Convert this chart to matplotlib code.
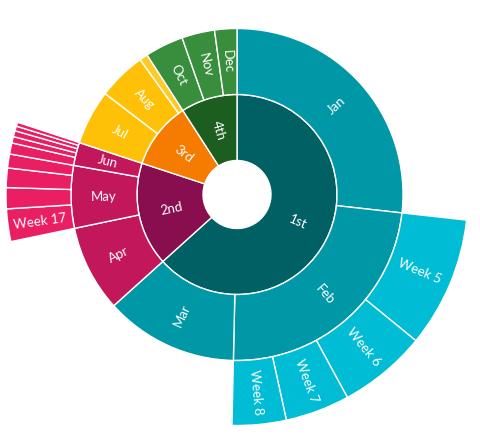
import math
import matplotlib
matplotlib.use("Agg")
import matplotlib.pyplot as plt

# data (values read as share of the circle)
quarters = ["1st", "2nd", "3rd", "4th"]
months = ["Jan", "Feb", "Mar", "Apr", "May", "Jun",
          "Jul", "Aug", "Sep", "Oct", "Nov", "Dec"]
month_values = [96.4, 84.9, 46.7, 30.3, 21.9, 8.1,
                19.2, 16.9, 2.9, 13.5, 11.5, 7.8]
week_names = ["Week 5", "Week 6", "Week 7", "Week 8",
               "Week 17", "Week 18", "Week 19", "Week 20",
               "Week 22", "Week 23", "Week 24", "Week 25", "Week 26"]
week_months = ["Feb", "Feb", "Feb", "Feb",
               "May", "May", "May", "May",
               "Jun", "Jun", "Jun", "Jun", "Jun"]
week_values = [32.9, 22.2, 16.2, 13.6,
               8.2, 5.3, 4.9, 3.5,
               2.8, 1.6, 1.5, 1.2, 1.0]

quarter_colors = ["#006064", "#880e4f", "#f57c00", "#1b5e20"]
month_colors = ["#0097a7", "#c2185b", "#ffc107", "#388e3c"]
week_colors = ["#00bcd4", "#e91e63"]

# derived rings
quarter_values = [sum(month_values[i * 3:i * 3 + 3]) for i in range(4)]
m_cols = [month_colors[i // 3] for i in range(12)]
m_cols[8] = "#ffca28"

ring3_vals, ring3_labels, ring3_cols = [], [], []
for i, m in enumerate(months):
    idx = [k for k, wm in enumerate(week_months) if wm == m]
    if idx:
        for k in idx:
            ring3_vals.append(week_values[k])
            ring3_labels.append(week_names[k])
            ring3_cols.append(week_colors[0] if i < 3 else week_colors[1])
    else:
        ring3_vals.append(month_values[i])
        ring3_labels.append("")
        ring3_cols.append("none")

total = sum(month_values)


def lab(names, vals, min_angle=6.0):
    return [n if v / total * 360 >= min_angle else "" for n, v in zip(names, vals)]


fig = plt.figure(figsize=(4.8, 4.42), dpi=100)
ax = fig.add_axes([0, 0, 1, 1])

cx, cy = 237, 247.5
r0, r1, r2, r3 = 34, 100, 166, 231

rings = [
    (quarter_values, lab(quarters, quarter_values), quarter_colors, r0, r1),
    (month_values, lab(months, month_values), m_cols, r1, r2),
    (ring3_vals, lab(ring3_labels, ring3_vals), ring3_cols, r2, r3),
]

for vals, labels, cols, rin, rout in rings:
    wedges, texts = ax.pie(
        vals, radius=rout, center=(cx, cy), colors=cols,
        startangle=90, counterclock=False, labels=labels,
        labeldistance=(rin + rout) / 2 / rout, rotatelabels=True,
        wedgeprops=dict(width=rout - rin, edgecolor="white", linewidth=1.0),
        textprops=dict(color="white", fontsize=9.5, family=["Lato", "DejaVu Sans"]),
    )
    for w, c in zip(wedges, cols):
        if c == "none":
            w.set_edgecolor("none")
    for t in texts:
        # radial text, flipped on the left so it reads left to right
        xt, yt = t.get_position()
        ang = math.degrees(math.atan2(yt - cy, xt - cx))
        if xt < cx:
            ang += 180
        t.set_rotation(ang)
        t.set_horizontalalignment("center")
        t.set_verticalalignment("center")

ax.set_xlim(0, 480)
ax.set_ylim(0, 442)
ax.set_aspect("equal")
ax.axis("off")

fig.savefig("out.png", dpi=100, facecolor="white")
